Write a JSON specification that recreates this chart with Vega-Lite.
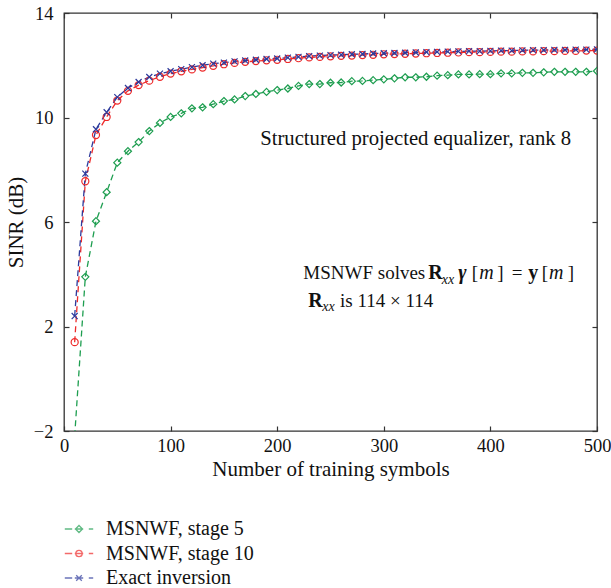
{
  "$schema": "https://vega.github.io/schema/vega-lite/v6.json",
  "width": 533,
  "height": 418,
  "autosize": {"type": "none"},
  "padding": {"left": 64, "top": 13, "right": 14, "bottom": 157},
  "background": "white",
  "config": {
    "view": {"stroke": "#333", "strokeWidth": 1.3},
    "font": "Liberation Serif",
    "axis": {
      "grid": false,
      "domain": false,
      "tickColor": "#333",
      "tickSize": -5,
      "tickWidth": 1.2,
      "labelFlush": false,
      "labelFont": "Liberation Serif",
      "labelFontSize": 18.5,
      "labelColor": "#111",
      "titleFont": "Liberation Serif",
      "titleFontSize": 21,
      "titleFontWeight": "normal",
      "titleColor": "#111"
    },
    "legend": {
      "orient": "none",
      "legendX": 4,
      "legendY": 505,
      "direction": "vertical",
      "padding": 0,
      "symbolSize": 400,
      "symbolStrokeWidth": 1.3,
      "labelFont": "Liberation Serif",
      "labelFontSize": 20,
      "labelColor": "#111",
      "labelOffset": 16,
      "rowPadding": 3.5
    }
  },
  "datasets": {
    "curves": [
      {"n": 10, "v": -2.2, "s": "MSNWF, stage 5"},
      {"n": 20, "v": 3.9, "s": "MSNWF, stage 5"},
      {"n": 30, "v": 6.03, "s": "MSNWF, stage 5"},
      {"n": 40, "v": 7.14, "s": "MSNWF, stage 5"},
      {"n": 50, "v": 8.27, "s": "MSNWF, stage 5"},
      {"n": 60, "v": 8.71, "s": "MSNWF, stage 5"},
      {"n": 70, "v": 9.06, "s": "MSNWF, stage 5"},
      {"n": 80, "v": 9.48, "s": "MSNWF, stage 5"},
      {"n": 90, "v": 9.79, "s": "MSNWF, stage 5"},
      {"n": 100, "v": 10.02, "s": "MSNWF, stage 5"},
      {"n": 110, "v": 10.16, "s": "MSNWF, stage 5"},
      {"n": 120, "v": 10.35, "s": "MSNWF, stage 5"},
      {"n": 130, "v": 10.39, "s": "MSNWF, stage 5"},
      {"n": 140, "v": 10.51, "s": "MSNWF, stage 5"},
      {"n": 150, "v": 10.63, "s": "MSNWF, stage 5"},
      {"n": 160, "v": 10.69, "s": "MSNWF, stage 5"},
      {"n": 170, "v": 10.82, "s": "MSNWF, stage 5"},
      {"n": 180, "v": 10.9, "s": "MSNWF, stage 5"},
      {"n": 190, "v": 10.98, "s": "MSNWF, stage 5"},
      {"n": 200, "v": 11.05, "s": "MSNWF, stage 5"},
      {"n": 210, "v": 11.11, "s": "MSNWF, stage 5"},
      {"n": 220, "v": 11.21, "s": "MSNWF, stage 5"},
      {"n": 230, "v": 11.28, "s": "MSNWF, stage 5"},
      {"n": 240, "v": 11.28, "s": "MSNWF, stage 5"},
      {"n": 250, "v": 11.33, "s": "MSNWF, stage 5"},
      {"n": 260, "v": 11.34, "s": "MSNWF, stage 5"},
      {"n": 270, "v": 11.39, "s": "MSNWF, stage 5"},
      {"n": 280, "v": 11.4, "s": "MSNWF, stage 5"},
      {"n": 290, "v": 11.43, "s": "MSNWF, stage 5"},
      {"n": 300, "v": 11.46, "s": "MSNWF, stage 5"},
      {"n": 310, "v": 11.5, "s": "MSNWF, stage 5"},
      {"n": 320, "v": 11.54, "s": "MSNWF, stage 5"},
      {"n": 330, "v": 11.54, "s": "MSNWF, stage 5"},
      {"n": 340, "v": 11.56, "s": "MSNWF, stage 5"},
      {"n": 350, "v": 11.6, "s": "MSNWF, stage 5"},
      {"n": 360, "v": 11.62, "s": "MSNWF, stage 5"},
      {"n": 370, "v": 11.65, "s": "MSNWF, stage 5"},
      {"n": 380, "v": 11.65, "s": "MSNWF, stage 5"},
      {"n": 390, "v": 11.66, "s": "MSNWF, stage 5"},
      {"n": 400, "v": 11.66, "s": "MSNWF, stage 5"},
      {"n": 410, "v": 11.69, "s": "MSNWF, stage 5"},
      {"n": 420, "v": 11.69, "s": "MSNWF, stage 5"},
      {"n": 430, "v": 11.71, "s": "MSNWF, stage 5"},
      {"n": 440, "v": 11.71, "s": "MSNWF, stage 5"},
      {"n": 450, "v": 11.73, "s": "MSNWF, stage 5"},
      {"n": 460, "v": 11.75, "s": "MSNWF, stage 5"},
      {"n": 470, "v": 11.75, "s": "MSNWF, stage 5"},
      {"n": 480, "v": 11.75, "s": "MSNWF, stage 5"},
      {"n": 490, "v": 11.75, "s": "MSNWF, stage 5"},
      {"n": 500, "v": 11.78, "s": "MSNWF, stage 5"},
      {"n": 10, "v": 1.4, "s": "MSNWF, stage 10"},
      {"n": 20, "v": 7.56, "s": "MSNWF, stage 10"},
      {"n": 30, "v": 9.33, "s": "MSNWF, stage 10"},
      {"n": 40, "v": 10.02, "s": "MSNWF, stage 10"},
      {"n": 50, "v": 10.65, "s": "MSNWF, stage 10"},
      {"n": 60, "v": 11.02, "s": "MSNWF, stage 10"},
      {"n": 70, "v": 11.24, "s": "MSNWF, stage 10"},
      {"n": 80, "v": 11.41, "s": "MSNWF, stage 10"},
      {"n": 90, "v": 11.56, "s": "MSNWF, stage 10"},
      {"n": 100, "v": 11.68, "s": "MSNWF, stage 10"},
      {"n": 110, "v": 11.77, "s": "MSNWF, stage 10"},
      {"n": 120, "v": 11.84, "s": "MSNWF, stage 10"},
      {"n": 130, "v": 11.91, "s": "MSNWF, stage 10"},
      {"n": 140, "v": 11.98, "s": "MSNWF, stage 10"},
      {"n": 150, "v": 12.04, "s": "MSNWF, stage 10"},
      {"n": 160, "v": 12.09, "s": "MSNWF, stage 10"},
      {"n": 170, "v": 12.13, "s": "MSNWF, stage 10"},
      {"n": 180, "v": 12.16, "s": "MSNWF, stage 10"},
      {"n": 190, "v": 12.19, "s": "MSNWF, stage 10"},
      {"n": 200, "v": 12.21, "s": "MSNWF, stage 10"},
      {"n": 210, "v": 12.24, "s": "MSNWF, stage 10"},
      {"n": 220, "v": 12.27, "s": "MSNWF, stage 10"},
      {"n": 230, "v": 12.3, "s": "MSNWF, stage 10"},
      {"n": 240, "v": 12.32, "s": "MSNWF, stage 10"},
      {"n": 250, "v": 12.34, "s": "MSNWF, stage 10"},
      {"n": 260, "v": 12.36, "s": "MSNWF, stage 10"},
      {"n": 270, "v": 12.37, "s": "MSNWF, stage 10"},
      {"n": 280, "v": 12.39, "s": "MSNWF, stage 10"},
      {"n": 290, "v": 12.4, "s": "MSNWF, stage 10"},
      {"n": 300, "v": 12.42, "s": "MSNWF, stage 10"},
      {"n": 310, "v": 12.43, "s": "MSNWF, stage 10"},
      {"n": 320, "v": 12.44, "s": "MSNWF, stage 10"},
      {"n": 330, "v": 12.45, "s": "MSNWF, stage 10"},
      {"n": 340, "v": 12.46, "s": "MSNWF, stage 10"},
      {"n": 350, "v": 12.47, "s": "MSNWF, stage 10"},
      {"n": 360, "v": 12.48, "s": "MSNWF, stage 10"},
      {"n": 370, "v": 12.49, "s": "MSNWF, stage 10"},
      {"n": 380, "v": 12.5, "s": "MSNWF, stage 10"},
      {"n": 390, "v": 12.5, "s": "MSNWF, stage 10"},
      {"n": 400, "v": 12.51, "s": "MSNWF, stage 10"},
      {"n": 410, "v": 12.52, "s": "MSNWF, stage 10"},
      {"n": 420, "v": 12.52, "s": "MSNWF, stage 10"},
      {"n": 430, "v": 12.53, "s": "MSNWF, stage 10"},
      {"n": 440, "v": 12.53, "s": "MSNWF, stage 10"},
      {"n": 450, "v": 12.54, "s": "MSNWF, stage 10"},
      {"n": 460, "v": 12.54, "s": "MSNWF, stage 10"},
      {"n": 470, "v": 12.55, "s": "MSNWF, stage 10"},
      {"n": 480, "v": 12.55, "s": "MSNWF, stage 10"},
      {"n": 490, "v": 12.56, "s": "MSNWF, stage 10"},
      {"n": 500, "v": 12.56, "s": "MSNWF, stage 10"},
      {"n": 10, "v": 2.4, "s": "Exact inversion"},
      {"n": 20, "v": 7.85, "s": "Exact inversion"},
      {"n": 30, "v": 9.55, "s": "Exact inversion"},
      {"n": 40, "v": 10.2, "s": "Exact inversion"},
      {"n": 50, "v": 10.78, "s": "Exact inversion"},
      {"n": 60, "v": 11.13, "s": "Exact inversion"},
      {"n": 70, "v": 11.36, "s": "Exact inversion"},
      {"n": 80, "v": 11.55, "s": "Exact inversion"},
      {"n": 90, "v": 11.68, "s": "Exact inversion"},
      {"n": 100, "v": 11.77, "s": "Exact inversion"},
      {"n": 110, "v": 11.85, "s": "Exact inversion"},
      {"n": 120, "v": 11.93, "s": "Exact inversion"},
      {"n": 130, "v": 12.0, "s": "Exact inversion"},
      {"n": 140, "v": 12.06, "s": "Exact inversion"},
      {"n": 150, "v": 12.1, "s": "Exact inversion"},
      {"n": 160, "v": 12.15, "s": "Exact inversion"},
      {"n": 170, "v": 12.18, "s": "Exact inversion"},
      {"n": 180, "v": 12.21, "s": "Exact inversion"},
      {"n": 190, "v": 12.24, "s": "Exact inversion"},
      {"n": 200, "v": 12.26, "s": "Exact inversion"},
      {"n": 210, "v": 12.29, "s": "Exact inversion"},
      {"n": 220, "v": 12.32, "s": "Exact inversion"},
      {"n": 230, "v": 12.35, "s": "Exact inversion"},
      {"n": 240, "v": 12.37, "s": "Exact inversion"},
      {"n": 250, "v": 12.39, "s": "Exact inversion"},
      {"n": 260, "v": 12.4, "s": "Exact inversion"},
      {"n": 270, "v": 12.42, "s": "Exact inversion"},
      {"n": 280, "v": 12.43, "s": "Exact inversion"},
      {"n": 290, "v": 12.45, "s": "Exact inversion"},
      {"n": 300, "v": 12.46, "s": "Exact inversion"},
      {"n": 310, "v": 12.47, "s": "Exact inversion"},
      {"n": 320, "v": 12.48, "s": "Exact inversion"},
      {"n": 330, "v": 12.49, "s": "Exact inversion"},
      {"n": 340, "v": 12.5, "s": "Exact inversion"},
      {"n": 350, "v": 12.51, "s": "Exact inversion"},
      {"n": 360, "v": 12.52, "s": "Exact inversion"},
      {"n": 370, "v": 12.53, "s": "Exact inversion"},
      {"n": 380, "v": 12.54, "s": "Exact inversion"},
      {"n": 390, "v": 12.54, "s": "Exact inversion"},
      {"n": 400, "v": 12.55, "s": "Exact inversion"},
      {"n": 410, "v": 12.56, "s": "Exact inversion"},
      {"n": 420, "v": 12.56, "s": "Exact inversion"},
      {"n": 430, "v": 12.57, "s": "Exact inversion"},
      {"n": 440, "v": 12.58, "s": "Exact inversion"},
      {"n": 450, "v": 12.58, "s": "Exact inversion"},
      {"n": 460, "v": 12.59, "s": "Exact inversion"},
      {"n": 470, "v": 12.59, "s": "Exact inversion"},
      {"n": 480, "v": 12.6, "s": "Exact inversion"},
      {"n": 490, "v": 12.6, "s": "Exact inversion"},
      {"n": 500, "v": 12.61, "s": "Exact inversion"}
    ],
    "txtTitle": [
      {"n": 184, "v": 8.95, "t": "Structured projected equalizer, rank 8"}
    ],
    "txtNormal": [
      {"n": 224.5, "v": 3.8, "t": "MSNWF solves"},
      {"n": 382.5, "v": 3.8, "t": "["},
      {"n": 406.5, "v": 3.8, "t": "]"},
      {"n": 420, "v": 3.8, "t": "="},
      {"n": 448.1, "v": 3.8, "t": "["},
      {"n": 472.5, "v": 3.8, "t": "]"},
      {"n": 259, "v": 2.74, "t": "is 114 × 114"}
    ],
    "txtItalic": [
      {"n": 389.5, "v": 3.8, "t": "m"},
      {"n": 455, "v": 3.8, "t": "m"}
    ],
    "txtBold": [
      {"n": 341.7, "v": 3.8, "t": "R"},
      {"n": 435.6, "v": 3.8, "t": "y"},
      {"n": 229.2, "v": 2.74, "t": "R"}
    ],
    "txtBoldItalic": [
      {"n": 369.9, "v": 3.8, "t": "γ"}
    ],
    "txtSub": [
      {"n": 354.3, "v": 3.64, "t": "xx"},
      {"n": 242.3, "v": 2.58, "t": "xx"}
    ]
  },
  "layer": [
    {
      "data": {"name": "curves"},
      "mark": {"type": "line", "strokeDash": [6, 4], "strokeWidth": 1.3, "clip": true},
      "encoding": {
        "x": {"field": "n", "type": "quantitative", "scale": {"domain": [0, 500], "nice": false},
              "axis": {"values": [0, 100, 200, 300, 400, 500], "title": "Number of training symbols", "labelPadding": 10, "titlePadding": 4}},
        "y": {"field": "v", "type": "quantitative", "scale": {"domain": [-2, 14], "nice": false, "zero": false},
              "axis": {"values": [-2, 2, 6, 10, 14], "title": "SINR (dB)", "labelPadding": 16, "titlePadding": 7}},
        "color": {"field": "s", "type": "nominal",
                  "scale": {"domain": ["MSNWF, stage 5", "MSNWF, stage 10", "Exact inversion"], "range": ["#1e9e50", "#ee2a2a", "#2d3a9c"]},
                  "legend": null},
        "detail": {"field": "s"}
      }
    },
    {
      "data": {"name": "curves"},
      "mark": {"type": "point", "filled": false, "size": 50, "strokeWidth": 1.2, "opacity": 1, "clip": true},
      "encoding": {
        "x": {"field": "n", "type": "quantitative", "axis": {"orient": "top", "values": [0, 100, 200, 300, 400, 500], "labels": false, "title": null}},
        "y": {"field": "v", "type": "quantitative", "axis": {"orient": "right", "values": [-2, 2, 6, 10, 14], "labels": false, "title": null}},
        "color": {"field": "s", "type": "nominal",
                  "scale": {"domain": ["MSNWF, stage 5", "MSNWF, stage 10", "Exact inversion"], "range": ["#1e9e50", "#ee2a2a", "#2d3a9c"]},
                  "legend": null},
        "shape": {"field": "s", "type": "nominal",
                  "scale": {"domain": ["MSNWF, stage 5", "MSNWF, stage 10", "Exact inversion"], "range": ["M0,-1L1,0L0,1L-1,0Z", "circle", "M-0.85,-0.85L0.85,0.85M-0.85,0.85L0.85,-0.85"]},
                  "legend": null}
      }
    },
    {
      "data": {"name": "curves"},
      "transform": [{"filter": "datum.n > 1000"}],
      "mark": {"type": "point", "filled": false, "strokeWidth": 1.3},
      "encoding": {
        "x": {"field": "n", "type": "quantitative", "axis": null},
        "y": {"field": "v", "type": "quantitative", "axis": null},
        "color": {"field": "s", "type": "nominal",
                  "scale": {"domain": ["MSNWF, stage 5", "MSNWF, stage 10", "Exact inversion"], "range": ["#1e9e50", "#ee2a2a", "#2d3a9c"]},
                  "legend": {"title": null}},
        "shape": {"field": "s", "type": "nominal",
                  "scale": {"domain": ["MSNWF, stage 5", "MSNWF, stage 10", "Exact inversion"],
                            "range": ["M-1.42,0H-0.68M-0.42,0H0.42M0.98,0H1.42M0,-0.35L0.35,0L0,0.35L-0.35,0Z",
                                      "M-1.42,0H-0.68M-0.42,0H0.42M0.98,0H1.42M0.32,0A0.32,0.32,0,1,1,-0.32,0A0.32,0.32,0,1,1,0.32,0",
                                      "M-1.42,0H-0.68M-0.42,0H0.42M0.98,0H1.42M-0.28,-0.28L0.28,0.28M-0.28,0.28L0.28,-0.28"]},
                  "legend": {"title": null}}
      }
    },
    {
      "data": {"name": "txtTitle"},
      "mark": {"type": "text", "align": "left", "baseline": "alphabetic", "font": "Liberation Serif", "fontSize": 20.7, "color": "#111"},
      "encoding": {
        "x": {"field": "n", "type": "quantitative", "axis": null},
        "y": {"field": "v", "type": "quantitative", "axis": null},
        "text": {"field": "t"}
      }
    },
    {
      "data": {"name": "txtNormal"},
      "mark": {"type": "text", "align": "left", "baseline": "alphabetic", "font": "Liberation Serif", "fontSize": 19, "color": "#111"},
      "encoding": {
        "x": {"field": "n", "type": "quantitative", "axis": null},
        "y": {"field": "v", "type": "quantitative", "axis": null},
        "text": {"field": "t"}
      }
    },
    {
      "data": {"name": "txtItalic"},
      "mark": {"type": "text", "align": "left", "baseline": "alphabetic", "font": "Liberation Serif", "fontStyle": "italic", "fontSize": 20, "color": "#111"},
      "encoding": {
        "x": {"field": "n", "type": "quantitative", "axis": null},
        "y": {"field": "v", "type": "quantitative", "axis": null},
        "text": {"field": "t"}
      }
    },
    {
      "data": {"name": "txtBold"},
      "mark": {"type": "text", "align": "left", "baseline": "alphabetic", "font": "Liberation Serif", "fontWeight": "bold", "fontSize": 20, "color": "#111"},
      "encoding": {
        "x": {"field": "n", "type": "quantitative", "axis": null},
        "y": {"field": "v", "type": "quantitative", "axis": null},
        "text": {"field": "t"}
      }
    },
    {
      "data": {"name": "txtBoldItalic"},
      "mark": {"type": "text", "align": "left", "baseline": "alphabetic", "font": "Liberation Serif", "fontWeight": "bold", "fontStyle": "italic", "fontSize": 20, "color": "#111"},
      "encoding": {
        "x": {"field": "n", "type": "quantitative", "axis": null},
        "y": {"field": "v", "type": "quantitative", "axis": null},
        "text": {"field": "t"}
      }
    },
    {
      "data": {"name": "txtSub"},
      "mark": {"type": "text", "align": "left", "baseline": "alphabetic", "font": "Liberation Serif", "fontStyle": "italic", "fontSize": 14, "color": "#111"},
      "encoding": {
        "x": {"field": "n", "type": "quantitative", "axis": null},
        "y": {"field": "v", "type": "quantitative", "axis": null},
        "text": {"field": "t"}
      }
    }
  ],
  "resolve": {
    "scale": {"color": "independent", "shape": "independent"},
    "axis": {"x": "independent", "y": "independent"}
  }
}
